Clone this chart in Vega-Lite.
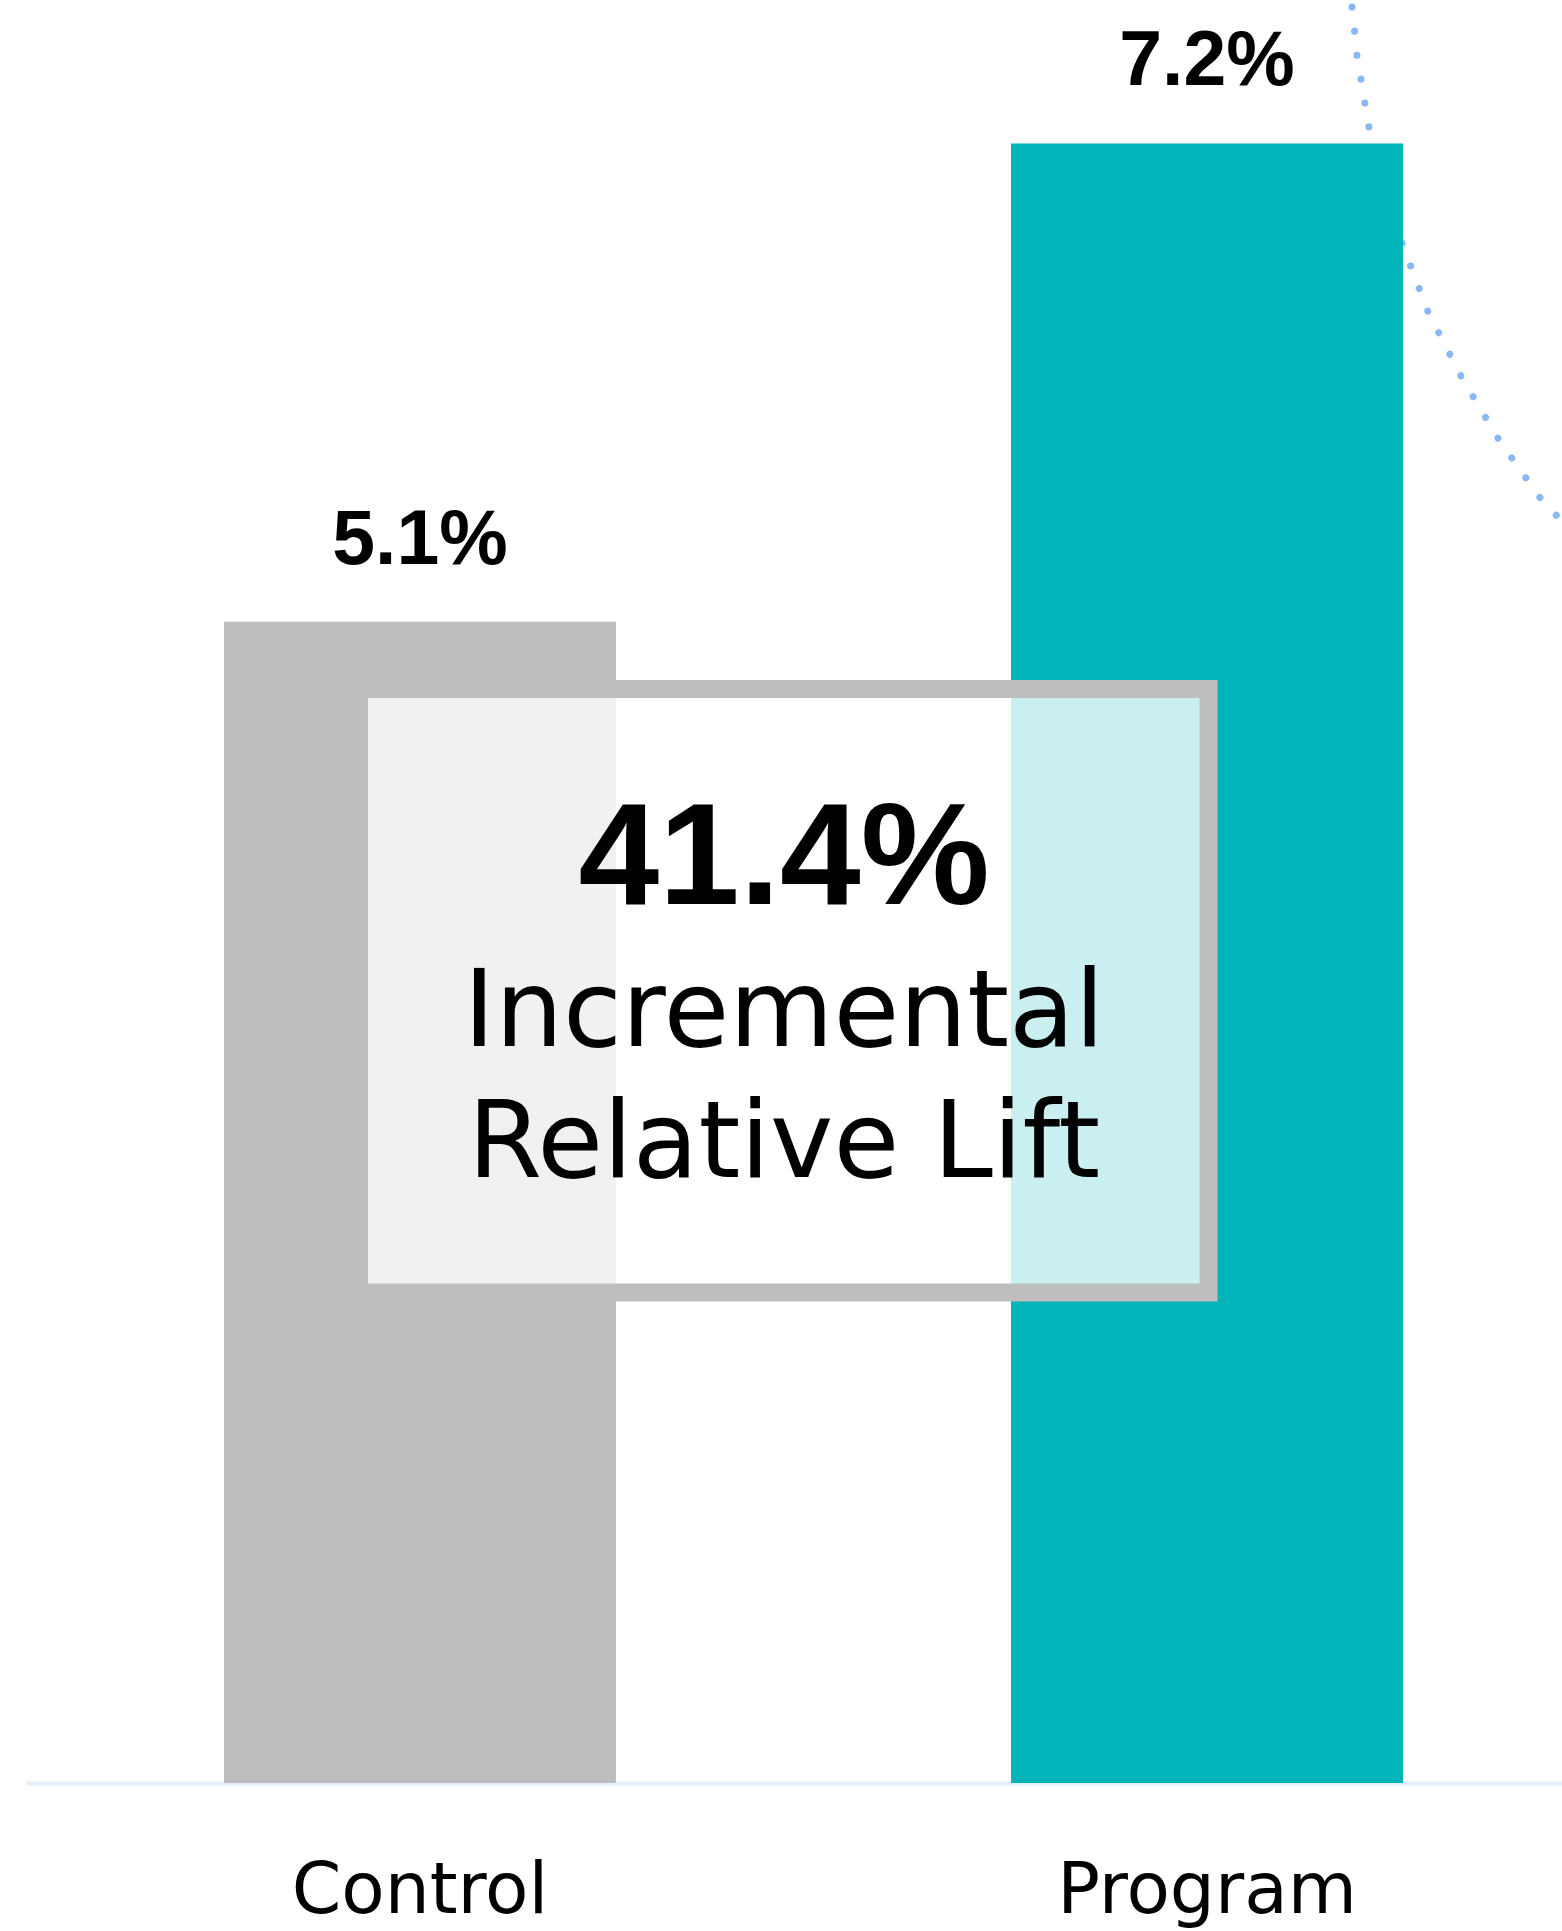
{
  "$schema": "https://vega.github.io/schema/vega-lite/v6.json",
  "width": 1536,
  "height": 1783,
  "autosize": "none",
  "padding": {"left": 26, "top": 0, "right": 0, "bottom": 148},
  "background": "white",
  "config": {"view": {"stroke": null}},
  "datasets": {
    "bars": [
      {"group": "Control", "rate": 5.1, "label": "5.1%"},
      {"group": "Program", "rate": 7.2, "label": "7.2%"}
    ],
    "curve": [
      {"seq": 1, "u": 86.33, "v": 7.799},
      {"seq": 2, "u": 86.65, "v": 7.588},
      {"seq": 3, "u": 87.43, "v": 7.272},
      {"seq": 4, "u": 89.58, "v": 6.763},
      {"seq": 5, "u": 91.28, "v": 6.46},
      {"seq": 6, "u": 93.49, "v": 6.17},
      {"seq": 7, "u": 95.9, "v": 5.898},
      {"seq": 8, "u": 98.63, "v": 5.639},
      {"seq": 9, "u": 100.52, "v": 5.503}
    ],
    "box": [{"u1": 21.68, "u2": 76.99, "v1": 4.804, "v2": 2.154}],
    "headline": [{"text": "41.4%", "u": 49.35, "v": 3.86}],
    "caption": [
      {"text": "Incremental", "u": 49.35, "v": 3.237},
      {"text": "Relative Lift", "u": 49.35, "v": 2.661}
    ]
  },
  "layer": [
    {
      "data": {"name": "curve"},
      "mark": {"type": "line", "stroke": "#8ab8f7", "strokeWidth": 7, "strokeCap": "round", "strokeDash": [0.1, 24.1]},
      "encoding": {
        "x": {"field": "u", "type": "quantitative", "scale": {"domain": [0, 100], "nice": false, "zero": false}, "axis": null},
        "y": {"field": "v", "type": "quantitative", "scale": {"domain": [0, 7.83], "nice": false}, "axis": null},
        "order": {"field": "seq"}
      }
    },
    {
      "data": {"name": "bars"},
      "mark": {"type": "bar"},
      "encoding": {
        "x": {
          "field": "group",
          "type": "nominal",
          "sort": ["Control", "Program"],
          "scale": {"type": "band", "paddingInner": 0.502, "paddingOuter": 0.2268, "align": 0.5546},
          "axis": {
            "title": null,
            "labelAngle": 0,
            "ticks": false,
            "tickSize": 0,
            "labelPadding": 129,
            "labelBaseline": "alphabetic",
            "labelFont": "DejaVu Sans",
            "labelFontSize": 71,
            "labelLimit": 0,
            "labelColor": "#000000",
            "domainColor": "#e3eefd",
            "domainWidth": 4,
            "grid": false
          }
        },
        "y": {"field": "rate", "type": "quantitative", "scale": {"domain": [0, 7.83], "nice": false}, "axis": null},
        "color": {
          "field": "group",
          "type": "nominal",
          "scale": {"domain": ["Control", "Program"], "range": ["#bdbdbd", "#01b4b9"]},
          "legend": null
        }
      }
    },
    {
      "data": {"name": "bars"},
      "mark": {"type": "text", "baseline": "alphabetic", "align": "center", "dy": -58, "font": "Liberation Sans", "fontWeight": "bold", "fontSize": 77, "color": "#000000"},
      "encoding": {
        "x": {"field": "group", "type": "nominal", "sort": ["Control", "Program"], "scale": {"type": "band", "paddingInner": 0.502, "paddingOuter": 0.2268, "align": 0.5546}, "axis": null},
        "y": {"field": "rate", "type": "quantitative", "scale": {"domain": [0, 7.83], "nice": false}, "axis": null},
        "text": {"field": "label"}
      }
    },
    {
      "data": {"name": "box"},
      "mark": {"type": "rect", "fill": "#ffffff", "fillOpacity": 0.79, "stroke": "#bebebe", "strokeWidth": 18},
      "encoding": {
        "x": {"field": "u1", "type": "quantitative", "scale": {"domain": [0, 100], "nice": false, "zero": false}, "axis": null},
        "x2": {"field": "u2"},
        "y": {"field": "v1", "type": "quantitative", "scale": {"domain": [0, 7.83], "nice": false}, "axis": null},
        "y2": {"field": "v2"}
      }
    },
    {
      "data": {"name": "headline"},
      "mark": {"type": "text", "baseline": "alphabetic", "align": "center", "font": "Liberation Sans", "fontWeight": "bold", "fontSize": 145, "color": "#000000"},
      "encoding": {
        "x": {"field": "u", "type": "quantitative", "scale": {"domain": [0, 100], "nice": false, "zero": false}, "axis": null},
        "y": {"field": "v", "type": "quantitative", "scale": {"domain": [0, 7.83], "nice": false}, "axis": null},
        "text": {"field": "text"}
      }
    },
    {
      "data": {"name": "caption"},
      "mark": {"type": "text", "baseline": "alphabetic", "align": "center", "font": "DejaVu Sans", "fontSize": 107, "color": "#000000"},
      "encoding": {
        "x": {"field": "u", "type": "quantitative", "scale": {"domain": [0, 100], "nice": false, "zero": false}, "axis": null},
        "y": {"field": "v", "type": "quantitative", "scale": {"domain": [0, 7.83], "nice": false}, "axis": null},
        "text": {"field": "text"}
      }
    }
  ],
  "resolve": {"scale": {"x": "independent", "color": "independent"}}
}
